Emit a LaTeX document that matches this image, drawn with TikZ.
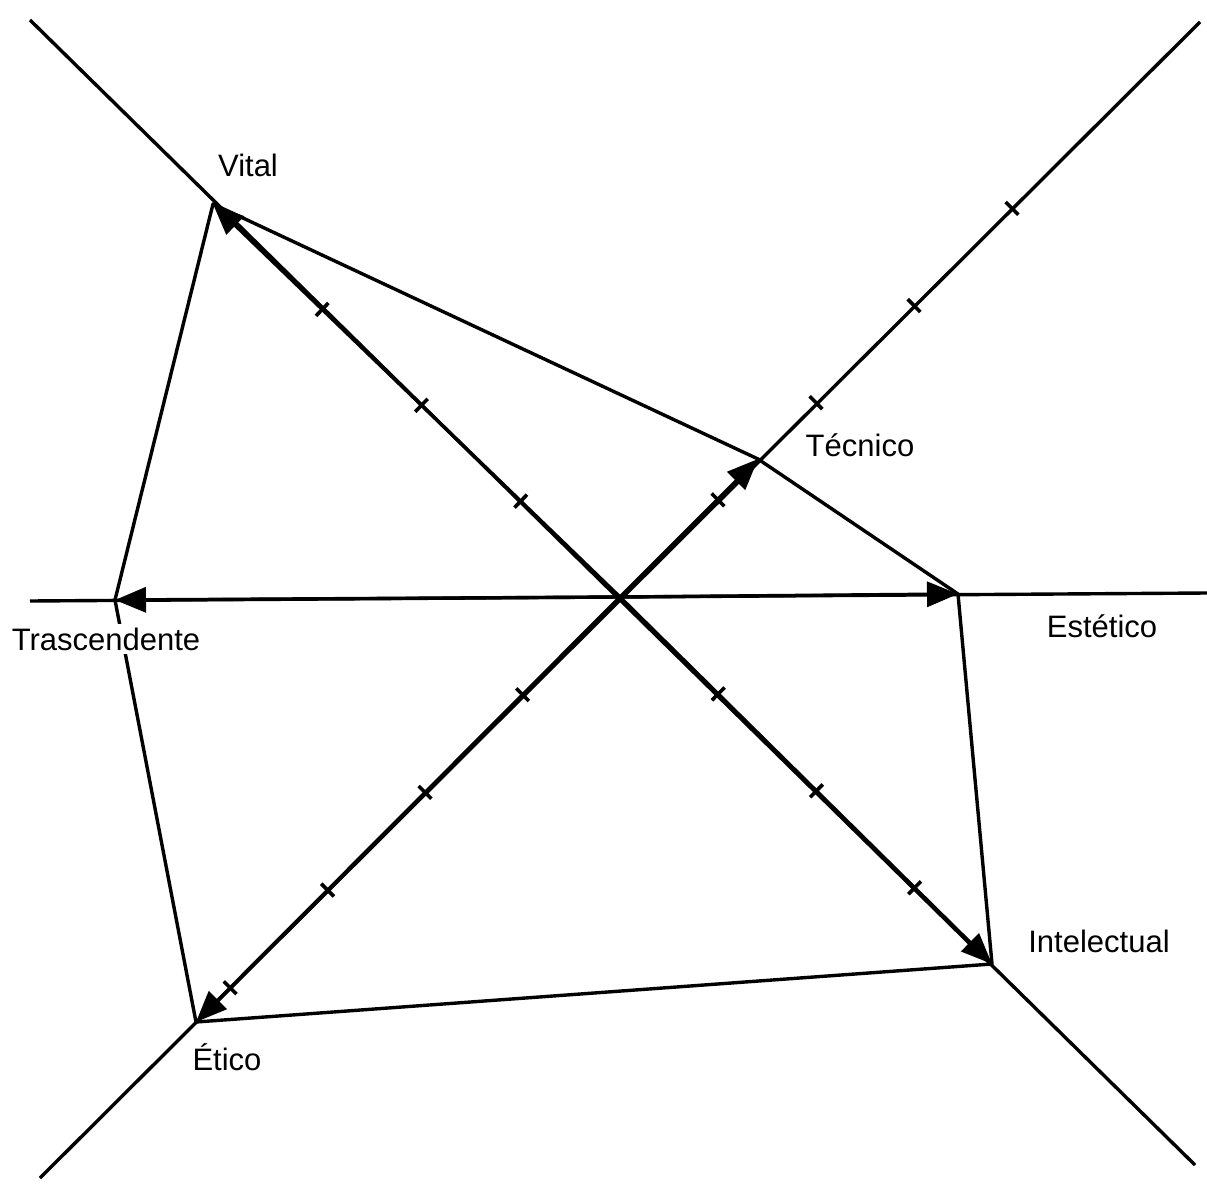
\documentclass[tikz,border=0pt]{standalone}
\usepackage{fontspec}
\setmainfont{Liberation Sans}
\usetikzlibrary{arrows.meta,calc}
\begin{document}
\begin{tikzpicture}[x=1pt,y=-1pt,
  axis/.style={line width=3.4pt},
  edge/.style={line width=3.4pt, line join=round},
  ray/.style={line width=3.4pt, -{Triangle[length=31pt,width=25pt]}},
  lbl/.style={font=\fontsize{31}{36}\selectfont, anchor=base, inner sep=0pt},
  tickmark/.style={line width=3.6pt}]
\useasboundingbox (0,0) rectangle (1207,1185);
% centre and vertices
\coordinate (O) at (620,597);
\coordinate (V) at (213,204);
\coordinate (T) at (758,459);
\coordinate (E) at (958,594);
\coordinate (I) at (992,964);
\coordinate (Et) at (196,1022);
\coordinate (Tr) at (115,600);
% line ends
\coordinate (L1a) at (30,20);
\coordinate (L1b) at (1195,1165);
\coordinate (L2a) at (40,1178);
\coordinate (L2b) at (1200,22);
\coordinate (Ha) at (30,601);
\coordinate (Hb) at (1207,593);
% axes
\draw[axis] (L1a) -- (L1b);
\draw[axis] (L2a) -- (L2b);
\draw[axis] (Ha) -- (Hb);
% polygon
\draw[edge] (V) -- (T) -- (E) -- (I) -- (Et) -- (Tr) -- cycle;
% rays with arrows
\foreach \p in {V,T,E,I,Et,Tr} \draw[ray] (O) -- (\p);
% tick marks
\foreach \p/\n in {V/3, I/3, Et/4, L2b/4}{
  \foreach \k in {1,...,\n}{
    \pgfmathsetmacro\dd{138*\k}
    \coordinate (P) at ($(O)!\dd pt!(\p)$);
    \draw[tickmark] ($(P)!9pt!90:(\p)$) -- ($(P)!9pt!-90:(\p)$);
  }
}
% labels
\node[lbl] (lV) at (248,177) {Vital};
\node[lbl] (lT) at (860,456) {Técnico};
\node[lbl, fill=white, inner ysep=4pt] (lTr) at (106,650) {Trascendente};
\node[lbl] (lE) at (1102,637) {Estético};
\node[lbl] (lI) at (1099,952) {Intelectual};
\node[lbl] (lEt) at (227,1070) {Ético};
\end{tikzpicture}
\end{document}
